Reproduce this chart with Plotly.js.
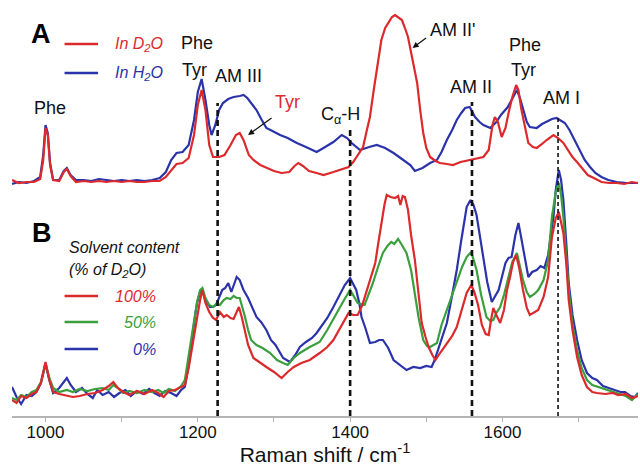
<!DOCTYPE html>
<html>
<head>
<meta charset="utf-8">
<script src="https://cdn.plot.ly/plotly-3.0.1.min.js"></script>
<style>html,body{margin:0;padding:0;background:#fff}#chart{width:640px;height:466px}</style>
</head>
<body>
<div id="chart"></div>
<script>
// ---------- Panel A (offset spectra, intensity above own baseline) ----------
const aD2O_x = [956,965,975,985,993,997,1000,1003,1006,1010,1018,1024,1028,1033,1040,1050,1060,1070,1080,1090,1100,1110,1120,1130,1140,1150,1158,1165,1172,1180,1188,1195,1200,1205,1210,1215,1220,1228,1235,1243,1250,1255,1260,1267,1273,1282,1290,1300,1310,1320,1327,1332,1338,1346,1356,1365,1378,1390,1398,1404,1410,1417,1422,1426,1431,1435,1441,1446,1450,1455,1459,1464,1468,1472,1476,1482,1488,1492,1496,1500,1505,1512,1518,1527,1535,1545,1558,1566,1575,1582,1587,1590,1594,1599,1604,1608,1613,1618,1621,1625,1630,1634,1640,1645,1652,1658,1667,1673,1680,1686,1692,1699,1705,1712,1720,1730,1740,1750,1760,1770,1778];
const aD2O_y = [3,0,1,1,4,23,55,48,18,3,2,11,14,7,1,2,1,2,1,2,1,2,1,1,2,2,6,13,19,20,25,48,78,93,73,38,26,26,28,38,48,50,43,28,23,18,15,12,10,11,17,20,17,12,10,8,11,14,16,21,28,36,53,66,93,113,143,155,160,166,168,165,163,155,146,123,100,73,50,35,26,22,20,19,18,21,23,24,26,33,58,66,61,46,55,70,86,98,93,73,53,40,36,35,39,43,48,45,40,33,26,20,14,8,5,1,0,0,-1,1,0];
const aH2O_x = [956,965,975,985,993,997,1000,1003,1006,1010,1018,1024,1028,1033,1040,1050,1060,1070,1080,1090,1100,1110,1120,1130,1140,1150,1158,1165,1172,1180,1188,1195,1200,1205,1210,1215,1218,1223,1228,1233,1240,1247,1255,1260,1265,1270,1277,1284,1290,1298,1308,1318,1330,1342,1356,1365,1378,1389,1396,1402,1413,1425,1435,1446,1457,1468,1479,1485,1495,1505,1514,1520,1527,1534,1540,1546,1551,1557,1560,1564,1570,1575,1584,1592,1598,1603,1607,1612,1619,1623,1627,1632,1636,1645,1652,1658,1665,1671,1676,1682,1688,1695,1701,1708,1715,1722,1730,1739,1750,1763,1778];
const aH2O_y = [-1,1,0,2,6,28,58,50,20,3,3,12,15,8,3,3,2,4,3,2,3,2,3,2,3,5,11,23,30,31,38,63,91,104,83,58,48,58,73,80,84,86,87,88,85,80,73,63,55,52,48,45,40,36,31,35,41,48,45,40,33,36,38,35,30,24,18,12,15,20,23,31,43,53,63,70,75,76,71,66,61,58,55,61,68,73,76,83,93,85,73,61,56,55,59,61,64,65,63,60,53,43,33,23,16,10,6,3,1,0,0];

// ---------- Panel B (solvent content series) ----------
const b100_x = [956,962,968,975,982,988,994,1000,1005,1010,1018,1028,1036,1045,1055,1065,1075,1083,1089,1095,1102,1110,1120,1130,1140,1148,1155,1162,1170,1178,1183,1188,1192,1196,1199,1203,1206,1210,1215,1220,1224,1229,1234,1238,1243,1247,1251,1254,1258,1262,1266,1273,1280,1290,1300,1310,1318,1326,1336,1347,1360,1370,1378,1388,1398,1404,1410,1416,1421,1427,1433,1437,1441,1445,1448,1453,1459,1463,1466,1469,1472,1476,1480,1485,1490,1494,1499,1503,1508,1512,1519,1527,1534,1540,1547,1553,1559,1563,1568,1573,1578,1582,1585,1588,1592,1597,1602,1606,1610,1614,1618,1622,1627,1632,1636,1641,1647,1654,1660,1665,1670,1674,1677,1680,1684,1687,1692,1698,1704,1711,1718,1724,1735,1745,1752,1762,1770,1778];
const b100_y = [0,-3,4,2,6,8,17,38,20,8,6,4,3,4,6,7,10,14,18,12,8,5,9,6,10,7,3,9,10,13,15,32,50,72,83,100,110,97,88,82,80,88,83,85,82,81,88,93,82,70,55,42,38,33,28,22,28,33,37,40,47,53,60,73,87,85,85,95,107,122,137,157,177,195,205,203,202,204,195,204,203,190,165,140,105,77,63,53,45,40,48,57,64,73,90,107,115,108,95,75,66,65,80,92,85,77,90,110,123,138,145,132,110,92,85,87,90,103,123,163,182,188,178,167,135,100,70,43,25,13,8,7,6,7,5,6,2,4];
const b50_x = [956,962,968,975,982,988,994,1000,1005,1010,1018,1028,1036,1045,1055,1065,1075,1083,1089,1095,1102,1110,1120,1130,1140,1148,1155,1162,1170,1178,1183,1188,1192,1196,1199,1203,1206,1210,1215,1220,1224,1229,1234,1238,1243,1247,1251,1255,1259,1262,1266,1270,1277,1285,1295,1304,1312,1318,1326,1334,1347,1360,1370,1382,1392,1400,1405,1410,1419,1425,1430,1437,1443,1449,1454,1458,1463,1468,1474,1480,1485,1490,1496,1501,1505,1510,1514,1520,1527,1534,1540,1547,1553,1559,1563,1566,1572,1579,1584,1588,1592,1597,1602,1608,1613,1619,1623,1627,1632,1636,1642,1647,1654,1660,1665,1670,1674,1677,1680,1684,1687,1692,1698,1704,1711,1718,1730,1740,1752,1762,1770,1778];
const b50_y = [2,0,5,3,8,10,18,37,22,12,8,10,8,11,9,11,12,10,15,12,7,9,7,10,8,10,7,11,9,14,20,45,65,85,98,110,112,102,95,93,96,95,100,102,101,104,102,102,92,83,70,60,55,52,47,40,37,35,42,47,53,58,70,87,100,110,103,97,95,107,117,134,147,154,158,156,161,155,147,130,107,82,60,54,53,55,57,75,90,105,117,133,143,148,138,130,105,83,79,80,87,93,105,123,138,147,132,120,108,103,106,110,120,140,183,208,217,205,183,145,110,75,50,32,20,15,12,10,7,4,0,6];
const b0_x = [956,962,968,975,982,988,994,1000,1005,1010,1018,1024,1028,1033,1040,1048,1055,1062,1068,1075,1083,1090,1097,1105,1112,1120,1128,1136,1143,1150,1157,1165,1172,1178,1183,1188,1192,1196,1199,1203,1206,1210,1216,1220,1224,1229,1232,1236,1240,1244,1248,1251,1255,1260,1266,1271,1277,1283,1290,1296,1302,1312,1321,1328,1334,1342,1350,1356,1362,1370,1378,1386,1393,1400,1404,1408,1412,1415,1420,1426,1433,1438,1443,1450,1457,1465,1474,1483,1492,1500,1507,1511,1514,1520,1527,1534,1540,1546,1553,1558,1562,1566,1570,1575,1580,1586,1590,1595,1600,1604,1608,1612,1617,1621,1624,1627,1631,1634,1639,1645,1650,1655,1660,1664,1667,1670,1674,1677,1680,1684,1687,1692,1698,1704,1711,1718,1724,1732,1739,1748,1755,1761,1768,1774,1778];
const b0_y = [13,3,-4,5,4,8,17,36,20,7,12,18,22,15,8,12,6,2,10,5,8,3,7,10,4,9,6,11,7,4,9,7,4,10,13,35,60,82,97,108,110,100,93,93,95,105,110,112,117,108,118,123,120,110,102,93,83,78,70,60,55,42,38,45,53,58,62,67,73,82,93,105,115,122,116,110,97,83,72,57,58,60,60,52,40,35,30,33,32,34,33,40,47,63,77,105,130,160,193,200,195,185,165,143,118,98,103,110,125,137,142,143,165,177,165,153,135,123,128,130,134,132,145,170,183,210,230,220,200,155,117,85,60,40,27,22,20,14,12,10,8,8,4,3,7];

// band assignment lines (cm-1) and the height (axis units) they rise to
const bandPos = [1226, 1400, 1560, 1673];
const bandTop = [297, 272, 298, 282];

const tickVals = [1000, 1200, 1400, 1600];
const tickText = ['1000', '1200', '1400', '1600'];

const OFFSET_A = 217;
const RED = '#dc2a2c', BLUE = '#2b33aa', GREEN = '#3a9f3c';
const F = 'Liberation Sans, Arial, Helvetica, sans-serif';

function tr(x, y, color, off) {
  return {x: x, y: y.map(v => v + off), type: 'scatter', mode: 'lines',
          line: {color: color, width: 2.2}, hoverinfo: 'skip', showlegend: false};
}
const data = [
  tr(aH2O_x, aH2O_y, BLUE, OFFSET_A),
  tr(aD2O_x, aD2O_y, RED, OFFSET_A),
  tr(b0_x, b0_y, BLUE, 0),
  tr(b50_x, b50_y, GREEN, 0),
  tr(b100_x, b100_y, RED, 0)
];

const shapes = bandPos.map((p, i) => ({
  type: 'line', xref: 'x', yref: 'y', x0: p, x1: p, y0: -16, y1: bandTop[i],
  line: {color: '#111', width: i === 3 ? 1.6 : 2.6, dash: i === 3 ? '4px,3px' : '6px,4px'}
}));
// legend swatches
const sw = (x0, x1, y, c) => ({type: 'line', xref: 'x', yref: 'y', x0: x0, x1: x1, y0: y, y1: y, line: {color: c, width: 2.5}});
shapes.push(sw(1025, 1069, 356, RED), sw(1025, 1069, 327, BLUE),
            sw(1025, 1069, 104, RED), sw(1025, 1069, 78, GREEN), sw(1025, 1069, 51, BLUE));

const lab = (t, x, y, opt) => Object.assign({text: t, x: x, y: y, xref: 'x', yref: 'y', showarrow: false,
  font: {family: F, size: 18, color: '#111'}}, opt || {});
const annotations = [
  lab('<b>A</b>', 994, 366, {font: {family: F, size: 27, color: '#000'}}),
  lab('<i>In D<sub>2</sub>O</i>', 1088, 356, {xanchor: 'left', font: {family: F, size: 16, color: RED}}),
  lab('<i>In H<sub>2</sub>O</i>', 1088, 327, {xanchor: 'left', font: {family: F, size: 16, color: BLUE}}),
  lab('Phe', 1006, 292),
  lab('Phe', 1199, 357),
  lab('Tyr', 1196, 330),
  lab('AM III', 1253, 324),
  lab('Tyr', 1318, 298, {font: {family: F, size: 18, color: RED}}),
  lab('C<sub>α</sub>-H', 1388, 285),
  lab("AM II'", 1534, 370),
  lab('AM II', 1559, 313),
  lab('Phe', 1630, 355),
  lab('Tyr', 1627, 330),
  lab('AM I', 1677, 302),
  lab('<b>B</b>', 995, 167, {font: {family: F, size: 27, color: '#000'}}),
  lab('<i>Solvent content</i>', 1028, 153, {xanchor: 'left', font: {family: F, size: 16, color: '#111'}}),
  lab('<i>(% of D<sub>2</sub>O)</i>', 1028, 130, {xanchor: 'left', font: {family: F, size: 16, color: '#111'}}),
  lab('<i>100%</i>', 1148, 104, {xanchor: 'right', font: {family: F, size: 16, color: RED}}),
  lab('<i>50%</i>', 1148, 78, {xanchor: 'right', font: {family: F, size: 16, color: GREEN}}),
  lab('<i>0%</i>', 1148, 51, {xanchor: 'right', font: {family: F, size: 16, color: BLUE}}),
  // arrows
  {x: 1266, y: 265, ax: 25, ay: -18, xref: 'x', yref: 'y', text: '', showarrow: true,
   arrowhead: 2, arrowsize: 1, arrowwidth: 1.2, arrowcolor: '#111'},
  {x: 1482, y: 352, ax: 15, ay: -11, xref: 'x', yref: 'y', text: '', showarrow: true,
   arrowhead: 2, arrowsize: 1, arrowwidth: 1.2, arrowcolor: '#111'}
];

const layout = {
  width: 640, height: 466,
  margin: {l: 12, r: 2, t: 0, b: 50},
  paper_bgcolor: '#fff', plot_bgcolor: '#fff',
  showlegend: false,
  font: {family: F, color: '#111'},
  xaxis: {
    range: [956, 1778], showgrid: false, zeroline: false,
    showline: true, linecolor: '#b4b4b4', linewidth: 2,
    ticks: 'outside', ticklen: 4, tickcolor: '#b4b4b4', tickwidth: 1,
    tickvals: tickVals, ticktext: tickText, ticklabelstandoff: -4,
    minor: {dtick: 100, tick0: 1000, ticks: 'outside', ticklen: 4, tickcolor: '#b4b4b4'},
    tickfont: {family: F, size: 17, color: '#111'},
    title: {text: 'Raman shift / cm<sup>-1</sup>', font: {family: F, size: 21, color: '#111'}, standoff: 9},
    automargin: false
  },
  yaxis: {range: [-16, 400], visible: false, fixedrange: true},
  shapes: shapes,
  annotations: annotations
};

Plotly.newPlot('chart', data, layout, {staticPlot: true, displayModeBar: false});
</script>
</body>
</html>
